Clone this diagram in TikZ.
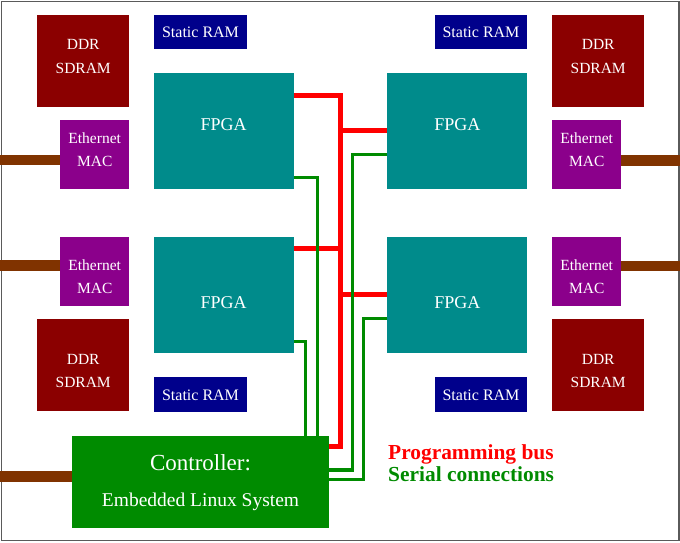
\documentclass[tikz,border=0pt]{standalone}
\usepackage{fontspec}
\setmainfont{Liberation Serif}
\usetikzlibrary{calc}
\definecolor{ddrc}{RGB}{139,0,0}
\definecolor{sramc}{RGB}{0,0,139}
\definecolor{fpgac}{RGB}{0,139,139}
\definecolor{ethc}{RGB}{139,0,139}
\definecolor{ctrlc}{RGB}{0,139,0}
\definecolor{cablec}{RGB}{128,51,0}
\definecolor{wred}{RGB}{255,0,0}
\definecolor{wgrn}{RGB}{0,139,0}
\definecolor{framec}{RGB}{90,90,90}
\tikzset{
  blk/.style={draw=none, inner sep=0pt, outer sep=0pt},
  ddrbox/.style={blk, fill=ddrc, minimum width=92.3pt, minimum height=92.3pt},
  srambox/.style={blk, fill=sramc, minimum width=92.8pt, minimum height=34.5pt},
  fpgabox/.style={blk, fill=fpgac, minimum width=140pt, minimum height=116pt},
  ethbox/.style={blk, fill=ethc, minimum width=69.3pt, minimum height=69.5pt},
  lbl/.style={text=white, inner sep=0pt, anchor=base},
  lblS/.style={lbl, font=\fontsize{15.5}{18}\selectfont},
  lblR/.style={lbl, font=\fontsize{16}{19}\selectfont},
  lblF/.style={lbl, font=\fontsize{18}{21}\selectfont},
  redw/.style={draw=wred, line width=5pt, line join=miter},
  grnw/.style={draw=wgrn, line width=3.3pt, line join=miter},
  cable/.style={draw=cablec, line width=10.5pt},
  legend/.style={inner sep=0pt, anchor=base west, font=\bfseries\fontsize{21.4}{25}\selectfont}
}
\begin{document}
\begin{tikzpicture}[x=1pt,y=-1pt]
\useasboundingbox (0,0) rectangle (680,542);
\fill[white] (0,0) rectangle (680,542);
\draw[framec, line width=1.3pt] (1.5,1.5) rectangle (679,540.5);

% left column
\node[ddrbox] (ddrTL) at (83.2,60.8) {};
\node[ddrbox] (ddrBL) at (83.2,365.3) {};
\node[ethbox] (ethTL) at (94.7,154.3) {};
\node[ethbox] (ethBL) at (94.7,271.4) {};
\node[srambox] (sramTL) at (200.5,31.9) {};
\node[srambox] (sramBL) at (200.5,394.5) {};
\node[fpgabox] (fpgaTL) at (223.7,131) {};
\node[fpgabox] (fpgaBL) at (223.7,294.7) {};
% right column
\node[ddrbox] (ddrTR) at (598.2,60.8) {};
\node[ddrbox] (ddrBR) at (598.2,365.3) {};
\node[ethbox] (ethTR) at (586.7,154.3) {};
\node[ethbox] (ethBR) at (586.7,271.4) {};
\node[srambox] (sramTR) at (481,31.9) {};
\node[srambox] (sramBR) at (481,394.5) {};
\node[fpgabox] (fpgaTR) at (457.3,131) {};
\node[fpgabox] (fpgaBR) at (457.3,294.7) {};
% controller
\node[blk, fill=ctrlc, minimum width=257pt, minimum height=92.3pt] (ctrl) at (200.5,482.2) {};

% labels
\node[lblS] (tDdrTL1) at (83.2,49) {DDR};
\node[lblS] (tDdrTL2) at (83.2,73.3) {SDRAM};
\node[lblS] (tDdrBL1) at (83.2,364.3) {DDR};
\node[lblS] (tDdrBL2) at (83.2,387.3) {SDRAM};
\node[lblS] (tDdrTR1) at (598.2,49) {DDR};
\node[lblS] (tDdrTR2) at (598.2,73.3) {SDRAM};
\node[lblS] (tDdrBR1) at (598.2,364.3) {DDR};
\node[lblS] (tDdrBR2) at (598.2,387.3) {SDRAM};
\node[lblS] (tEthTL1) at (94.7,143.3) {Ethernet};
\node[lblS] (tEthTL2) at (94.7,166) {MAC};
\node[lblS] (tEthBL1) at (94.7,270) {Ethernet};
\node[lblS] (tEthBL2) at (94.7,293.3) {MAC};
\node[lblS] (tEthTR1) at (586.7,143.3) {Ethernet};
\node[lblS] (tEthTR2) at (586.7,166) {MAC};
\node[lblS] (tEthBR1) at (586.7,270) {Ethernet};
\node[lblS] (tEthBR2) at (586.7,293.3) {MAC};
\node[lblR] (tSramTL) at (200.5,37.3) {Static RAM};
\node[lblR] (tSramBL) at (200.5,400) {Static RAM};
\node[lblR] (tSramTR) at (481,37.3) {Static RAM};
\node[lblR] (tSramBR) at (481,400) {Static RAM};
\node[lblF] (tFpgaTL) at (223.7,130) {FPGA};
\node[lblF] (tFpgaBL) at (223.7,308) {FPGA};
\node[lblF] (tFpgaTR) at (457.3,130) {FPGA};
\node[lblF] (tFpgaBR) at (457.3,308) {FPGA};
\node[lbl, font=\fontsize{23}{27}\selectfont] (tCtrl1) at (200.5,470.7) {Controller:};
\node[lbl, font=\fontsize{19.5}{23}\selectfont] (tCtrl2) at (200.5,506) {Embedded Linux System};

% cables
\coordinate (cTL) at (0,160.2);
\coordinate (cBL) at (0,265.5);
\coordinate (cCt) at (0,476.3);
\coordinate (cTR) at (680,160.3);
\coordinate (cBR) at (680,266);
\draw[cable] (cTL) -- (cTL -| ethTL.west);
\draw[cable] (cBL) -- (cBL -| ethBL.west);
\draw[cable, line width=11.3pt] (cCt) -- (cCt -| ctrl.west);
\draw[cable] (cTR) -- (cTR -| ethTR.east);
\draw[cable] (cBR) -- (cBR -| ethBR.east);

% programming bus
\coordinate (r1) at (340.8,95.8);
\coordinate (rb) at (340.8,446.7);
\coordinate (r2) at (340.8,130.8);
\coordinate (r3) at (340.8,248.2);
\coordinate (r4) at (340.8,294.8);
\draw[redw] (fpgaTL.east |- r1) -- (r1) -- (rb) -- (ctrl.east |- rb);
\draw[redw] (fpgaTR.west |- r2) -- (r2);
\draw[redw] (fpgaBL.east |- r3) -- (r3);
\draw[redw] (fpgaBR.west |- r4) -- (r4);

% serial connections
\coordinate (g1) at (317.2,177.7);
\coordinate (g2) at (305.3,341.7);
\coordinate (g3) at (352.3,154.3);
\coordinate (g3b) at (352.3,470);
\coordinate (g4) at (363.2,318.3);
\coordinate (g4b) at (363.2,479.2);
\draw[grnw] (fpgaTL.east |- g1) -- (g1) -- (g1 |- ctrl.north);
\draw[grnw] (fpgaBL.east |- g2) -- (g2) -- (g2 |- ctrl.north);
\draw[grnw] (fpgaTR.west |- g3) -- (g3) -- (g3b) -- (ctrl.east |- g3b);
\draw[grnw] (fpgaBR.west |- g4) -- (g4) -- (g4b) -- (ctrl.east |- g4b);

% legend
\node[legend, text=wred] (legR) at (388,459) {Programming bus};
\node[legend, text=wgrn] (legG) at (388,481.7) {Serial connections};
\end{tikzpicture}
\end{document}
